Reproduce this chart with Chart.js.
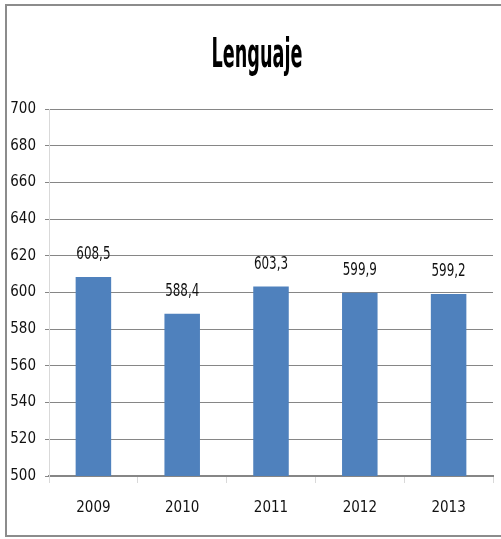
<!DOCTYPE html>
<html>
<head>
<meta charset="utf-8">
<script src="https://cdn.jsdelivr.net/npm/chart.js@4"></script>
<style>
  html, body { margin: 0; padding: 0; background: #fff; }
  #wrap { width: 501px; height: 539px; }
</style>
</head>
<body>
<div id="wrap"><canvas id="grafico" width="501" height="539"></canvas></div>
<script>
const titulo = "Lenguaje";
const anos = ["2009", "2010", "2011", "2012", "2013"];
const puntajes = [608.5, 588.4, 603.3, 599.9, 599.2];
const yMin = 500;
const yMax = 700;
const yPaso = 20;

const FUENTE = "'DejaVu Sans Condensed', 'Liberation Sans Narrow', sans-serif";

// marco gris alrededor del gráfico
const marco = {
  id: "marco",
  beforeDraw(chart) {
    const c = chart.ctx;
    c.save();
    c.fillStyle = "#fff";
    c.fillRect(0, 0, chart.width, chart.height);
    c.strokeStyle = "#8c8c8c";
    c.lineWidth = 2;
    c.beginPath();
    c.moveTo(501, 5);
    c.lineTo(6, 5);
    c.lineTo(6, 536);
    c.lineTo(501, 536);
    c.stroke();
    c.restore();
  }
};

// título condensado
const tituloPlugin = {
  id: "tituloCondensado",
  afterDraw(chart) {
    const c = chart.ctx;
    c.save();
    c.font = "bold 40px " + FUENTE;
    c.fillStyle = "#000";
    c.textAlign = "center";
    c.textBaseline = "alphabetic";
    c.translate(257, 67);
    c.scale(0.49, 1);
    c.fillText(titulo, 0, 0);
    c.restore();
  }
};

// etiquetas de valor sobre cada barra
const etiquetas = {
  id: "etiquetas",
  afterDatasetsDraw(chart) {
    const c = chart.ctx;
    const meta = chart.getDatasetMeta(0);
    c.save();
    c.font = "17px " + FUENTE;
    c.fillStyle = "#111";
    c.textAlign = "center";
    c.textBaseline = "middle";
    meta.data.forEach((bar, i) => {
      const txt = puntajes[i].toFixed(1).replace(".", ",");
      c.save();
      c.translate(bar.x, bar.y - 22);
      c.scale(0.78, 1);
      c.fillText(txt, 0, 0);
      c.restore();
    });
    c.restore();
  }
};

new Chart(document.getElementById("grafico"), {
  type: "bar",
  data: {
    labels: anos,
    datasets: [{
      data: puntajes,
      backgroundColor: "#4f81bd",
      barPercentage: 0.4,
      categoryPercentage: 1
    }]
  },
  options: {
    responsive: false,
    animation: false,
    layout: { padding: { left: 0, right: 8, top: 109, bottom: 0 } },
    plugins: {
      legend: { display: false },
      title: { display: false },
      tooltip: { enabled: false }
    },
    scales: {
      x: {
        grid: { drawOnChartArea: false, tickLength: 7, color: "#d9d9d9" },
        border: { color: "#868686", width: 2 },
        ticks: { color: "#111", font: { family: FUENTE, size: 15 }, padding: 16 },
        afterFit(s) { s.height = 63; }
      },
      y: {
        min: yMin,
        max: yMax,
        ticks: { stepSize: yPaso, color: "#111", font: { family: FUENTE, size: 15 }, padding: 9 },
        grid: { color: "#868686", tickLength: 4 },
        border: { color: "#d9d9d9", width: 1 },
        afterFit(s) { s.width = 49; }
      }
    }
  },
  plugins: [marco, tituloPlugin, etiquetas]
});
</script>
</body>
</html>
